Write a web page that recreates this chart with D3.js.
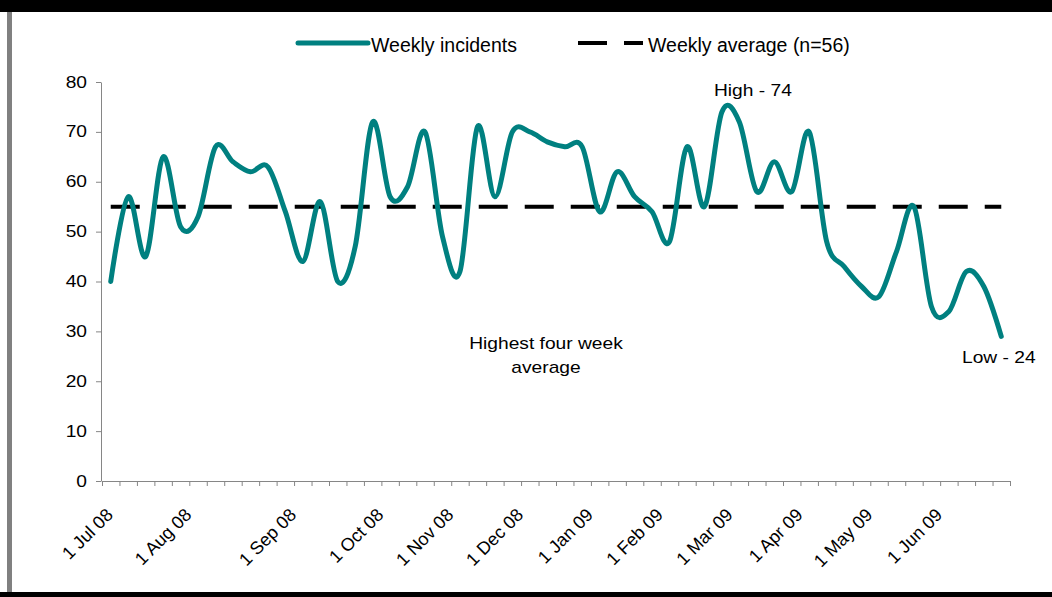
<!DOCTYPE html>
<html lang="en">
<head>
    <meta charset="UTF-8">
    <title>Weekly incidents</title>
    <script src="https://d3js.org/d3.v7.min.js"></script>
    <style>
        body { margin: 0; background: #fff; }
        text { font-family: "Liberation Sans", Arial, sans-serif; fill: #000; }
        .axis path, .axis line { stroke: #868686; }
    </style>
</head>
<body>
    <div id="plot"></div>

    <script>
        // weekly incidents, 1 Jul 08 -> end Jun 09 (52 weeks)
        let incidents = [40, 57, 45, 65, 51, 53, 67, 64, 62, 63,
                         54, 44, 56, 40, 47, 72, 57, 59, 70, 49,
                         42, 71, 57, 70, 70, 68, 67, 67, 54, 62,
                         57, 54, 48, 67, 55, 74, 72, 58, 64, 58,
                         70, 48, 43, 39, 37, 46, 55, 35, 34, 42,
                         39, 29];
        let weeklyAverage = 55;

        let monthLabels = ['1 Jul 08', '1 Aug 08', '1 Sep 08', '1 Oct 08', '1 Nov 08', '1 Dec 08',
                           '1 Jan 09', '1 Feb 09', '1 Mar 09', '1 Apr 09', '1 May 09', '1 Jun 09'];
        // week the label sits on (first label hugs the axis start)
        let monthWeek = [-0.5, 4, 10, 15, 19, 23, 27, 31, 35, 39, 43, 47];
        let yTicks = [0, 10, 20, 30, 40, 50, 60, 70, 80];

        function translate(x, y) {
            return 'translate(' + x + ', ' + y + ')';
        }

        let svgWidth = 1052;
        let svgHeight = 597;
        let stretch = 'scale(1.2, 1)';   // source chart text is a bit wide

        let svg = d3.select('#plot')
                    .append('svg')
                        .attr('width', svgWidth)
                        .attr('height', svgHeight);

        // frame bars
        svg.append('rect').attr('x', 0).attr('y', 0).attr('width', svgWidth).attr('height', 12).attr('fill', '#000');
        svg.append('rect').attr('x', 7).attr('y', 12).attr('width', 5).attr('height', 580).attr('fill', '#808080');
        svg.append('rect').attr('x', 0).attr('y', 592).attr('width', svgWidth).attr('height', 5).attr('fill', '#000');

        let x = d3.scaleLinear()
                    .domain([0, incidents.length])
                    .range([102, 1010]);
        let y = d3.scaleLinear()
                    .domain([0, 80])
                    .range([481, 82]);

        let yAxis = d3.axisLeft(y).tickValues(yTicks).tickSize(5).tickSizeOuter(0).tickPadding(9);
        let xAxis = d3.axisBottom(x).tickValues(d3.range(incidents.length + 1))
                        .tickFormat('').tickSize(5).tickSizeOuter(0);

        let gy = svg.append('g')
            .attr('class', 'axis')
            .attr('transform', translate(101, 0))
            .call(yAxis);
        gy.selectAll('text')
            .style('font-size', '16px')
            .attr('transform', function() { return translate(d3.select(this).attr('x'), 0) + ' ' + stretch; })
            .attr('x', 0);

        svg.append('g')
            .attr('class', 'axis')
            .attr('transform', translate(0, 481))
            .call(xAxis);

        // month labels
        svg.selectAll('.month')
            .data(monthLabels)
            .enter()
            .append('text')
            .attr('class', 'month')
            .attr('text-anchor', 'end')
            .style('font-size', '18px')
            .attr('transform', (d, i) => translate(x(monthWeek[i] + 0.5) + 12, 516) + ' rotate(-45)')
            .text(d => d);

        // average line
        svg.append('line')
            .attr('x1', x(0.5))
            .attr('x2', x(incidents.length - 0.5))
            .attr('y1', y(weeklyAverage))
            .attr('y2', y(weeklyAverage))
            .attr('stroke', '#000')
            .attr('stroke-width', 4)
            .attr('stroke-dasharray', '29,17');

        let line = d3.line()
            .x((d, i) => x(i + 0.5))
            .y(d => y(d))
            .curve(d3.curveCardinal.tension(0));

        svg.append('path')
            .datum(incidents)
            .attr('d', line)
            .attr('fill', 'none')
            .attr('stroke', '#008080')
            .attr('stroke-width', 5)
            .attr('stroke-linejoin', 'round')
            .attr('stroke-linecap', 'round');

        // legend
        let legend = svg.append('g');
        legend.append('line')
            .attr('x1', 298).attr('x2', 368).attr('y1', 43).attr('y2', 43)
            .attr('stroke', '#008080').attr('stroke-width', 5).attr('stroke-linecap', 'round');
        legend.append('text')
            .attr('x', 371).attr('y', 52)
            .style('font-size', '19.5px')
            .text('Weekly incidents');
        legend.append('line')
            .attr('x1', 578).attr('x2', 643).attr('y1', 43).attr('y2', 43)
            .attr('stroke', '#000').attr('stroke-width', 4).attr('stroke-dasharray', '29,17');
        legend.append('text')
            .attr('x', 648).attr('y', 52)
            .style('font-size', '19.5px')
            .text('Weekly average (n=56)');

        // annotations
        function note(txt, px, py, anchor) {
            svg.append('text')
                .attr('text-anchor', anchor)
                .attr('transform', translate(px, py) + ' ' + stretch)
                .style('font-size', '16px')
                .text(txt);
        }
        note('High - 74', 714, 96, 'start');
        note('Low - 24', 962, 363, 'start');
        note('Highest four week', 546, 349, 'middle');
        note('average', 546, 373, 'middle');
    </script>
</body>
</html>
